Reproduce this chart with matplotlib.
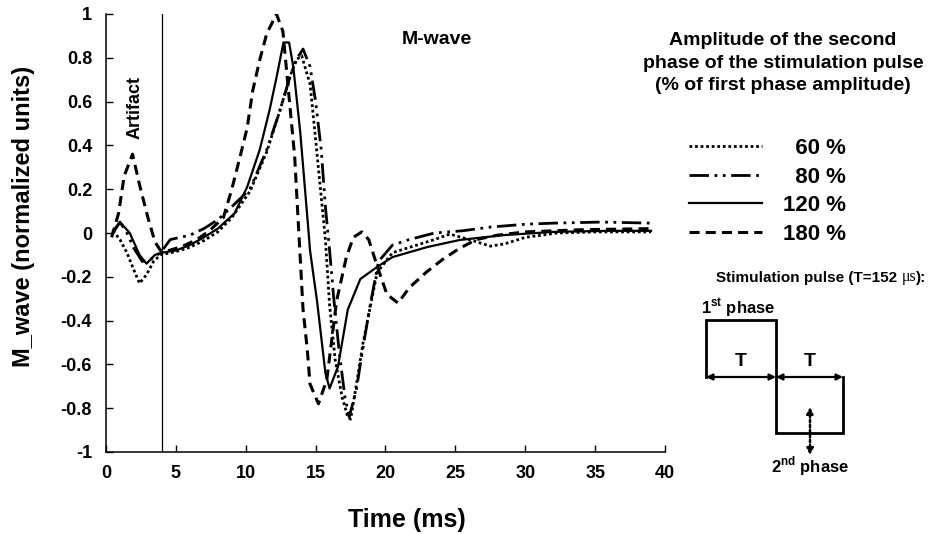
import matplotlib
matplotlib.use('Agg')
import matplotlib.pyplot as plt

plt.rcParams['font.family'] = ['Liberation Sans', 'DejaVu Sans']
plt.rcParams['font.weight'] = 'bold'
plt.rcParams['axes.unicode_minus'] = False
plt.rcParams['mathtext.fontset'] = 'custom'
plt.rcParams['mathtext.rm'] = 'Liberation Sans:bold'
plt.rcParams['mathtext.bf'] = 'Liberation Sans:bold'

# M-wave traces (time in ms, normalized amplitude)
t60 = [0.5, 1.0, 1.5, 2.0, 2.4, 2.9, 3.4, 3.9, 5, 6, 7, 8, 9, 10.3, 11.5, 12.4, 13.2, 13.6,
       14.0, 14.6, 14.95, 15.3, 15.7, 16.0, 16.4, 16.9, 17.3, 17.5, 17.9, 18.4, 18.9, 19.4,
       20.5, 22, 23.5, 24.6, 26, 27.5, 28.5, 30, 32.3, 35, 39]
m60 = [0.01, -0.03, -0.09, -0.17, -0.23, -0.19, -0.13, -0.1, -0.085, -0.065, -0.035, 0.005,
       0.07, 0.19, 0.37, 0.55, 0.72, 0.79, 0.81, 0.68, 0.46, 0.23, -0.03, -0.33, -0.58,
       -0.75, -0.84, -0.85, -0.7, -0.5, -0.34, -0.18, -0.09, -0.06, -0.03, -0.005, -0.03,
       -0.06, -0.05, -0.02, 0.0, 0.005, 0.005]

t80 = [0.5, 1.0, 1.5, 2.0, 2.6, 3.2, 3.9, 4.6, 6.0, 7.0, 8.0, 9.0, 10.3, 11.5, 12.4, 13.2,
       13.7, 14.1, 14.6, 15.0, 15.4, 15.7, 16.0, 16.3, 16.7, 17.1, 17.4, 17.9, 18.4, 18.9,
       19.5, 20.5, 21.7, 23.5, 25.5, 27.5, 30, 32, 35.5, 39]
m80 = [0.0, 0.05, 0.0, -0.07, -0.13, -0.12, -0.09, -0.03, -0.01, 0.02, 0.06, 0.12, 0.2,
       0.38, 0.55, 0.72, 0.8, 0.84, 0.76, 0.6, 0.38, 0.12, -0.08, -0.3, -0.55, -0.75, -0.84,
       -0.72, -0.52, -0.33, -0.13, -0.055, -0.03, 0.0, 0.01, 0.027, 0.04, 0.045, 0.05, 0.045]

t120 = [0.5, 1.0, 1.7, 2.4, 2.9, 3.5, 4.0, 5, 6, 7, 8, 9.2, 10.1, 11.0, 11.7, 12.2, 12.7,
        13.1, 13.4, 13.9, 14.2, 14.5, 14.6, 15.1, 15.5, 15.7, 16.0, 16.6, 17.3, 18.2, 19.4,
        20.5, 23, 25.3, 28.4, 32, 36, 39]
m120 = [0.01, 0.05, 0.0, -0.1, -0.14, -0.1, -0.09, -0.08, -0.055, -0.02, 0.02, 0.09, 0.21,
        0.38, 0.56, 0.71, 0.87, 0.87, 0.76, 0.46, 0.23, 0.0, -0.08, -0.31, -0.53, -0.64,
        -0.71, -0.61, -0.35, -0.21, -0.155, -0.11, -0.064, -0.032, -0.01, 0.005, 0.01, 0.01]

t180 = [0.4, 0.9, 1.3, 1.9, 2.4, 3.0, 3.5, 3.9, 4.5, 5.5, 6.5, 7.4, 8.4, 9.0, 9.6, 10.1,
        10.5, 11.0, 11.5, 12.2, 12.66, 13.1, 13.5, 13.8, 14.1, 14.4, 14.6, 15.2, 15.8, 16.5,
        17.2, 17.7, 18.3, 18.8, 19.4, 20.1, 20.9, 21.7, 22.9, 24.1, 25.3, 26.5, 28, 30, 34, 39]
m180 = [-0.02, 0.09, 0.26, 0.36, 0.22, 0.07, -0.04, -0.08, -0.08, -0.06, -0.03, 0.01, 0.07,
        0.2, 0.35, 0.48, 0.65, 0.79, 0.91, 1.0, 0.92, 0.62, 0.35, 0.0, -0.35, -0.53, -0.69,
        -0.78, -0.67, -0.31, -0.11, -0.02, 0.005, -0.03, -0.15, -0.28, -0.32, -0.25, -0.18,
        -0.12, -0.07, -0.03, -0.01, 0.005, 0.015, 0.02]

series_labels = ['  60 %', '  80 %', '120 %', '180 %']
xticks = [0, 5, 10, 15, 20, 25, 30, 35, 40]
yticks = [-1, -0.8, -0.6, -0.4, -0.2, 0, 0.2, 0.4, 0.6, 0.8, 1]
ytick_labels = ['-1', '-0.8', '-0.6', '-0.4', '-0.2', '0', '0.2', '0.4', '0.6', '0.8', '1']
artifact_end = 4

W, H = 932, 534
fig = plt.figure(figsize=(W / 100, H / 100), dpi=100)
ax = fig.add_axes([106 / W, 1 - 452 / H, 559 / W, 438 / H])

l60, = ax.plot(t60, m60, color='black', lw=2.0, ls=(0, (1, 1)))
l80, = ax.plot(t80, m80, color='black', lw=2.0, ls=(0, (7, 2, 1, 2, 1, 2)))
l120, = ax.plot(t120, m120, color='black', lw=1.6, ls='-')
l180, = ax.plot(t180, m180, color='black', lw=2.2, ls=(0, (3.3, 2)))
ax.axvline(artifact_end, color='black', lw=0.9)

ax.set_xlim(0, 40)
ax.set_ylim(-1, 1)
ax.set_xticks(xticks)
ax.set_yticks(yticks)
ax.set_yticklabels(ytick_labels)
ax.tick_params(direction='in', length=5, width=1, labelsize=13)
ax.tick_params(axis='x', pad=9)
ax.tick_params(axis='y', pad=10)
for s in ['top', 'right']:
    ax.spines[s].set_visible(False)
for s in ['left', 'bottom']:
    ax.spines[s].set_linewidth(1.1)

ax.set_xlabel('Time (ms)', fontsize=18, fontweight='bold')
ax.xaxis.set_label_coords((407 - 106) / 559, (452 - 520) / 438)
ax.xaxis.label.set_va('center')
ax.set_ylabel('M_wave (normalized units)', fontsize=17, fontweight='bold')
ax.yaxis.set_label_coords((23 - 106) / 559, (452 - 216) / 438)
ax.yaxis.label.set_va('center')

ax.text(2.1, 0.575, 'Artifact', rotation=90, ha='center', va='center', fontsize=13)
ax.text(23.7, 0.885, 'M-wave', ha='center', va='center', fontsize=14)

leg = ax.legend([l60, l80, l120, l180], series_labels, loc='upper left',
                bbox_to_anchor=(689 / W, 1 - 138 / H), bbox_transform=fig.transFigure,
                frameon=False, fontsize=16, handlelength=3.3, handletextpad=0.95,
                labelspacing=0.34, borderpad=0, borderaxespad=0)

fig.text(783 / W, 1 - 63 / H,
         'Amplitude of the second\nphase of the stimulation pulse\n(% of first phase amplitude)',
         ha='center', va='center', fontsize=14, linespacing=1.45)

# overlay in pixel units for the pulse sketch
ov = fig.add_axes([0, 0, 1, 1])
ov.set_xlim(0, W)
ov.set_ylim(H, 0)
ov.axis('off')

t1 = ov.text(716, 285, 'Stimulation pulse (T=152 ', fontsize=11, va='bottom', ha='left')
t2 = ov.annotate('\u03bcs', xy=(1, 0), xycoords=t1, va='bottom', ha='left', fontsize=11.5,
                 fontweight='normal', family=['Liberation Serif'])
ov.annotate('):', xy=(1, 0), xycoords=t2, va='bottom', ha='left', fontsize=11)

ov.plot([706, 706, 776, 776, 843, 843], [377, 320, 320, 433, 433, 377], color='black',
        lw=2.0, solid_joinstyle='miter')
for a, b in [(706, 776), (776, 843)]:
    ov.annotate('', xy=(b, 377), xytext=(a, 377),
                arrowprops=dict(arrowstyle='<|-|>', color='black', lw=1.6,
                                mutation_scale=9, shrinkA=0, shrinkB=0))
ov.annotate('', xy=(810, 455), xytext=(810, 407),
            arrowprops=dict(arrowstyle='<|-|>', color='black', lw=1.8, ls=(0, (1, 1)),
                            mutation_scale=9, shrinkA=0, shrinkB=0))
ov.text(741, 362, 'T', ha='center', va='center', fontsize=14)
ov.text(810, 362, 'T', ha='center', va='center', fontsize=14)
ov.text(738, 308, '1$^{\\mathrm{st}}$ phase', ha='center', va='center', fontsize=12)
ov.text(810, 466, '2$^{\\mathrm{nd}}$ phase', ha='center', va='center', fontsize=12)

fig.savefig('out.png', dpi=100)
